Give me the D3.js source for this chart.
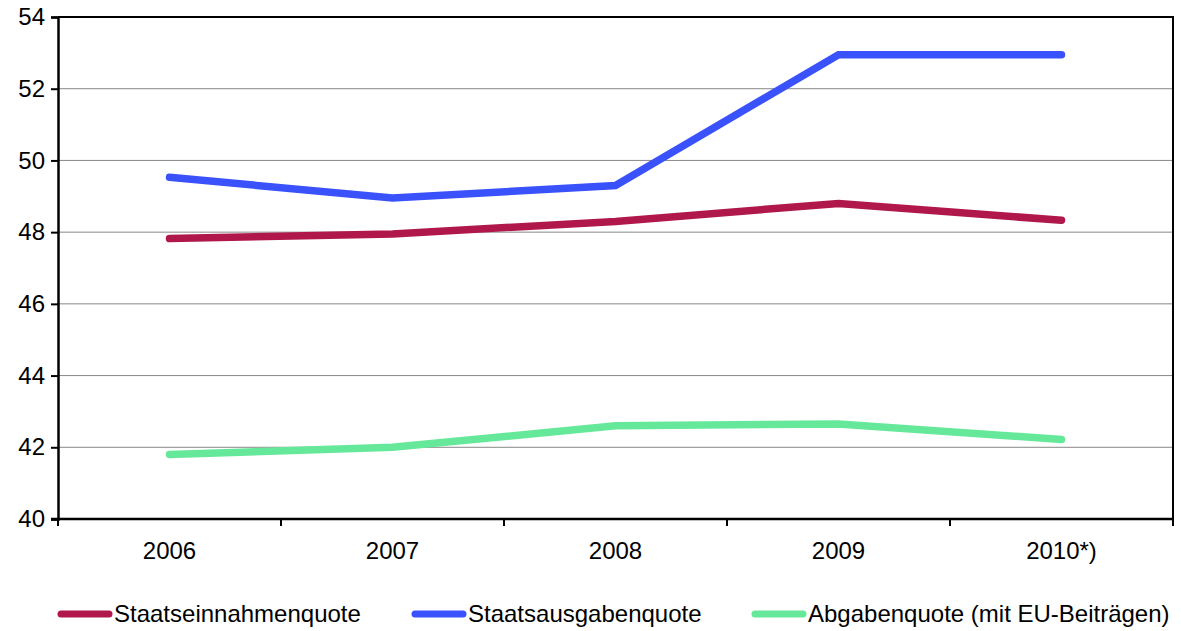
<!DOCTYPE html>
<html>
<head>
<meta charset="utf-8">
<script src="https://cdn.jsdelivr.net/npm/d3@7"></script>
<style>
  body { margin: 0; background: #fff; }
  svg { display: block; font-family: "Liberation Sans", Arial, sans-serif; }
</style>
</head>
<body>
<main></main>
<script>
const years = ["2006", "2007", "2008", "2009", "2010*)"]
const einnahmen = [47.82, 47.95, 48.3, 48.8, 48.33]
const ausgaben = [49.53, 48.95, 49.3, 52.95, 52.95]
const abgaben = [41.8, 42.0, 42.6, 42.65, 42.22]
const seriesNames = ["Staatseinnahmenquote", "Staatsausgabenquote", "Abgabenquote (mit EU-Beiträgen)"]
const yTicks = [40, 42, 44, 46, 48, 50, 52, 54]

const width = 1181
const height = 631
const margin = { top: 17, right: 8, bottom: 112, left: 58 }

const series = [
    { name: seriesNames[0], values: einnahmen, color: "#b0184b" },
    { name: seriesNames[1], values: ausgaben, color: "#3a52fc" },
    { name: seriesNames[2], values: abgaben, color: "#66e89a" }
]

let svg = d3.select("main")
    .append("svg")
    .attr("width", width)
    .attr("height", height)
    .attr("viewBox", [0, 0, width, height])

let x = d3.scaleBand()
    .domain(years)
    .range([margin.left, width - margin.right])

let y = d3.scaleLinear()
    .domain([40, 54])
    .range([height - margin.bottom, margin.top])

// gridlines
svg.append("g")
    .selectAll("line")
    .data(yTicks.slice(1, -1))
    .enter().append("line")
    .attr("x1", margin.left)
    .attr("x2", width - margin.right)
    .attr("y1", d => y(d))
    .attr("y2", d => y(d))
    .attr("stroke", "#888")
    .attr("stroke-width", 1)

// frame top + right
svg.append("path")
    .attr("d", `M${margin.left},${y(54)}H${width - margin.right}V${y(40)}`)
    .attr("fill", "none")
    .attr("stroke", "#000")
    .attr("stroke-width", 2)

// y axis
let yAxis = svg.append("g")
    .attr("transform", `translate(${margin.left},0)`)
    .call(d3.axisLeft(y).tickValues(yTicks).tickSize(7).tickPadding(6))
yAxis.attr("font-size", null).attr("font-family", null)
yAxis.select(".domain").attr("stroke-width", 2.5)
yAxis.selectAll(".tick line").attr("stroke-width", 2)
yAxis.selectAll("text").style("font-size", "24px").attr("fill", "#000")

// x axis: ticks at band boundaries
let xAxis = svg.append("g")
    .attr("transform", `translate(0,${y(40)})`)
xAxis.append("line")
    .attr("x1", margin.left - 7)
    .attr("x2", width - margin.right)
    .attr("stroke", "#000")
    .attr("stroke-width", 2.5)
let bounds = years.map(d => x(d)).concat([x(years[years.length - 1]) + x.bandwidth()])
xAxis.selectAll(".xt")
    .data(bounds)
    .enter().append("line")
    .attr("x1", d => d)
    .attr("x2", d => d)
    .attr("y1", 0)
    .attr("y2", 7)
    .attr("stroke", "#000")
    .attr("stroke-width", 2)
xAxis.selectAll(".xl")
    .data(years)
    .enter().append("text")
    .attr("x", d => x(d) + x.bandwidth() / 2)
    .attr("y", 40)
    .attr("text-anchor", "middle")
    .style("font-size", "24px")
    .text(d => d)

// lines
let line = d3.line()
    .x((d, i) => x(years[i]) + x.bandwidth() / 2)
    .y(d => y(d))

svg.append("g")
    .selectAll("path")
    .data(series)
    .enter().append("path")
    .attr("d", d => line(d.values))
    .attr("fill", "none")
    .attr("stroke", d => d.color)
    .attr("stroke-width", 7.5)
    .attr("stroke-linecap", "round")
    .attr("stroke-linejoin", "miter")

// legend
let legendX = [58, 412, 752]
let legend = svg.append("g")
    .attr("transform", "translate(0,614)")
let item = legend.selectAll("g")
    .data(series)
    .enter().append("g")
    .attr("transform", (d, i) => `translate(${legendX[i]},0)`)
item.append("line")
    .attr("x1", 3)
    .attr("x2", 51)
    .attr("stroke", d => d.color)
    .attr("stroke-width", 7)
    .attr("stroke-linecap", "round")
item.append("text")
    .attr("x", 56)
    .attr("y", 8)
    .style("font-size", "24px")
    .text(d => d.name)
</script>
</body>
</html>
